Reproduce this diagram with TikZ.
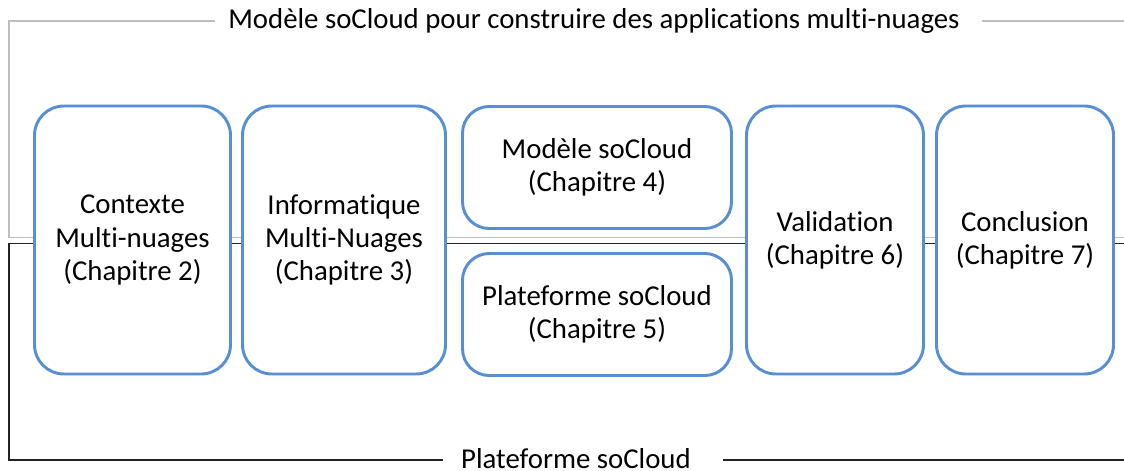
\documentclass[tikz,border=0pt]{standalone}
\usepackage{fontspec}
\setmainfont{Carlito}[Ligatures=NoCommon]
\usepackage{tikz}
\usetikzlibrary{positioning}

\definecolor{chapblue}{RGB}{88,142,212}
\definecolor{bracegray}{RGB}{190,190,190}
\definecolor{braceblack}{RGB}{35,35,35}

\begin{document}
\begin{tikzpicture}[x=0.75pt, y=-0.75pt, semithick,
    chap/.style={draw=chapblue, line width=2.2pt, fill=white, rounded corners=22pt,
                 align=center, inner sep=0pt, font=\fontsize{21.6}{24.8}\selectfont},
    tall/.style={chap, minimum height=201pt},
    half/.style={chap, rounded corners=20pt, minimum width=201.75pt, minimum height=91.5pt},
    lbl/.style={font=\fontsize{21.6}{24.8}\selectfont, inner sep=0pt}]
    \useasboundingbox (0,0) rectangle (1124,471);

    % brackets
    \node[lbl] (top)    at (594,21)  {Modèle soCloud pour construire des applications multi-nuages};
    \node[lbl] (bottom) at (576,459) {Plateforme soCloud};
    \coordinate (gTL) at (9,21);   \coordinate (gTR) at (1124,21);
    \coordinate (gBL) at (9,237.5); \coordinate (gBR) at (1124,237.5);
    \coordinate (kTL) at (9,243.5); \coordinate (kTR) at (1124,243.5);
    \coordinate (kBL) at (9,460);  \coordinate (kBR) at (1124,460);
    \draw[bracegray, line width=1.1pt] (top.west) ++(-13,0) -- (gTL) -- (gBL) -- (gBR);
    \draw[bracegray, line width=1.1pt] (top.east) ++(22,0) -- (gTR);
    \draw[braceblack, line width=1.1pt] (kTR) -- (kTL) -- (kBL) -- ([xshift=-13]bottom.west |- kBL);
    \draw[braceblack, line width=1.1pt] ([xshift=24]bottom.east |- kBR) -- (kBR);

    % chapters
    \node[tall, minimum width=147pt]    (C2) at (132.5,240) {Contexte\\Multi-nuages\\(Chapitre 2)};
    \node[tall, minimum width=152.25pt] (C3) at (344,240)   {Informatique\\Multi-Nuages\\(Chapitre 3)};
    \node[half] (C4) at (597,167.5) {Modèle soCloud\\(Chapitre 4)};
    \node[half] (C5) at (597,314.5) {Plateforme soCloud\\(Chapitre 5)};
    \node[tall, minimum width=132.75pt] (C6) at (835,240)   {Validation\\(Chapitre 6)};
    \node[tall, minimum width=132.75pt] (C7) at (1025,240)  {Conclusion\\(Chapitre 7)};
\end{tikzpicture}
\end{document}
